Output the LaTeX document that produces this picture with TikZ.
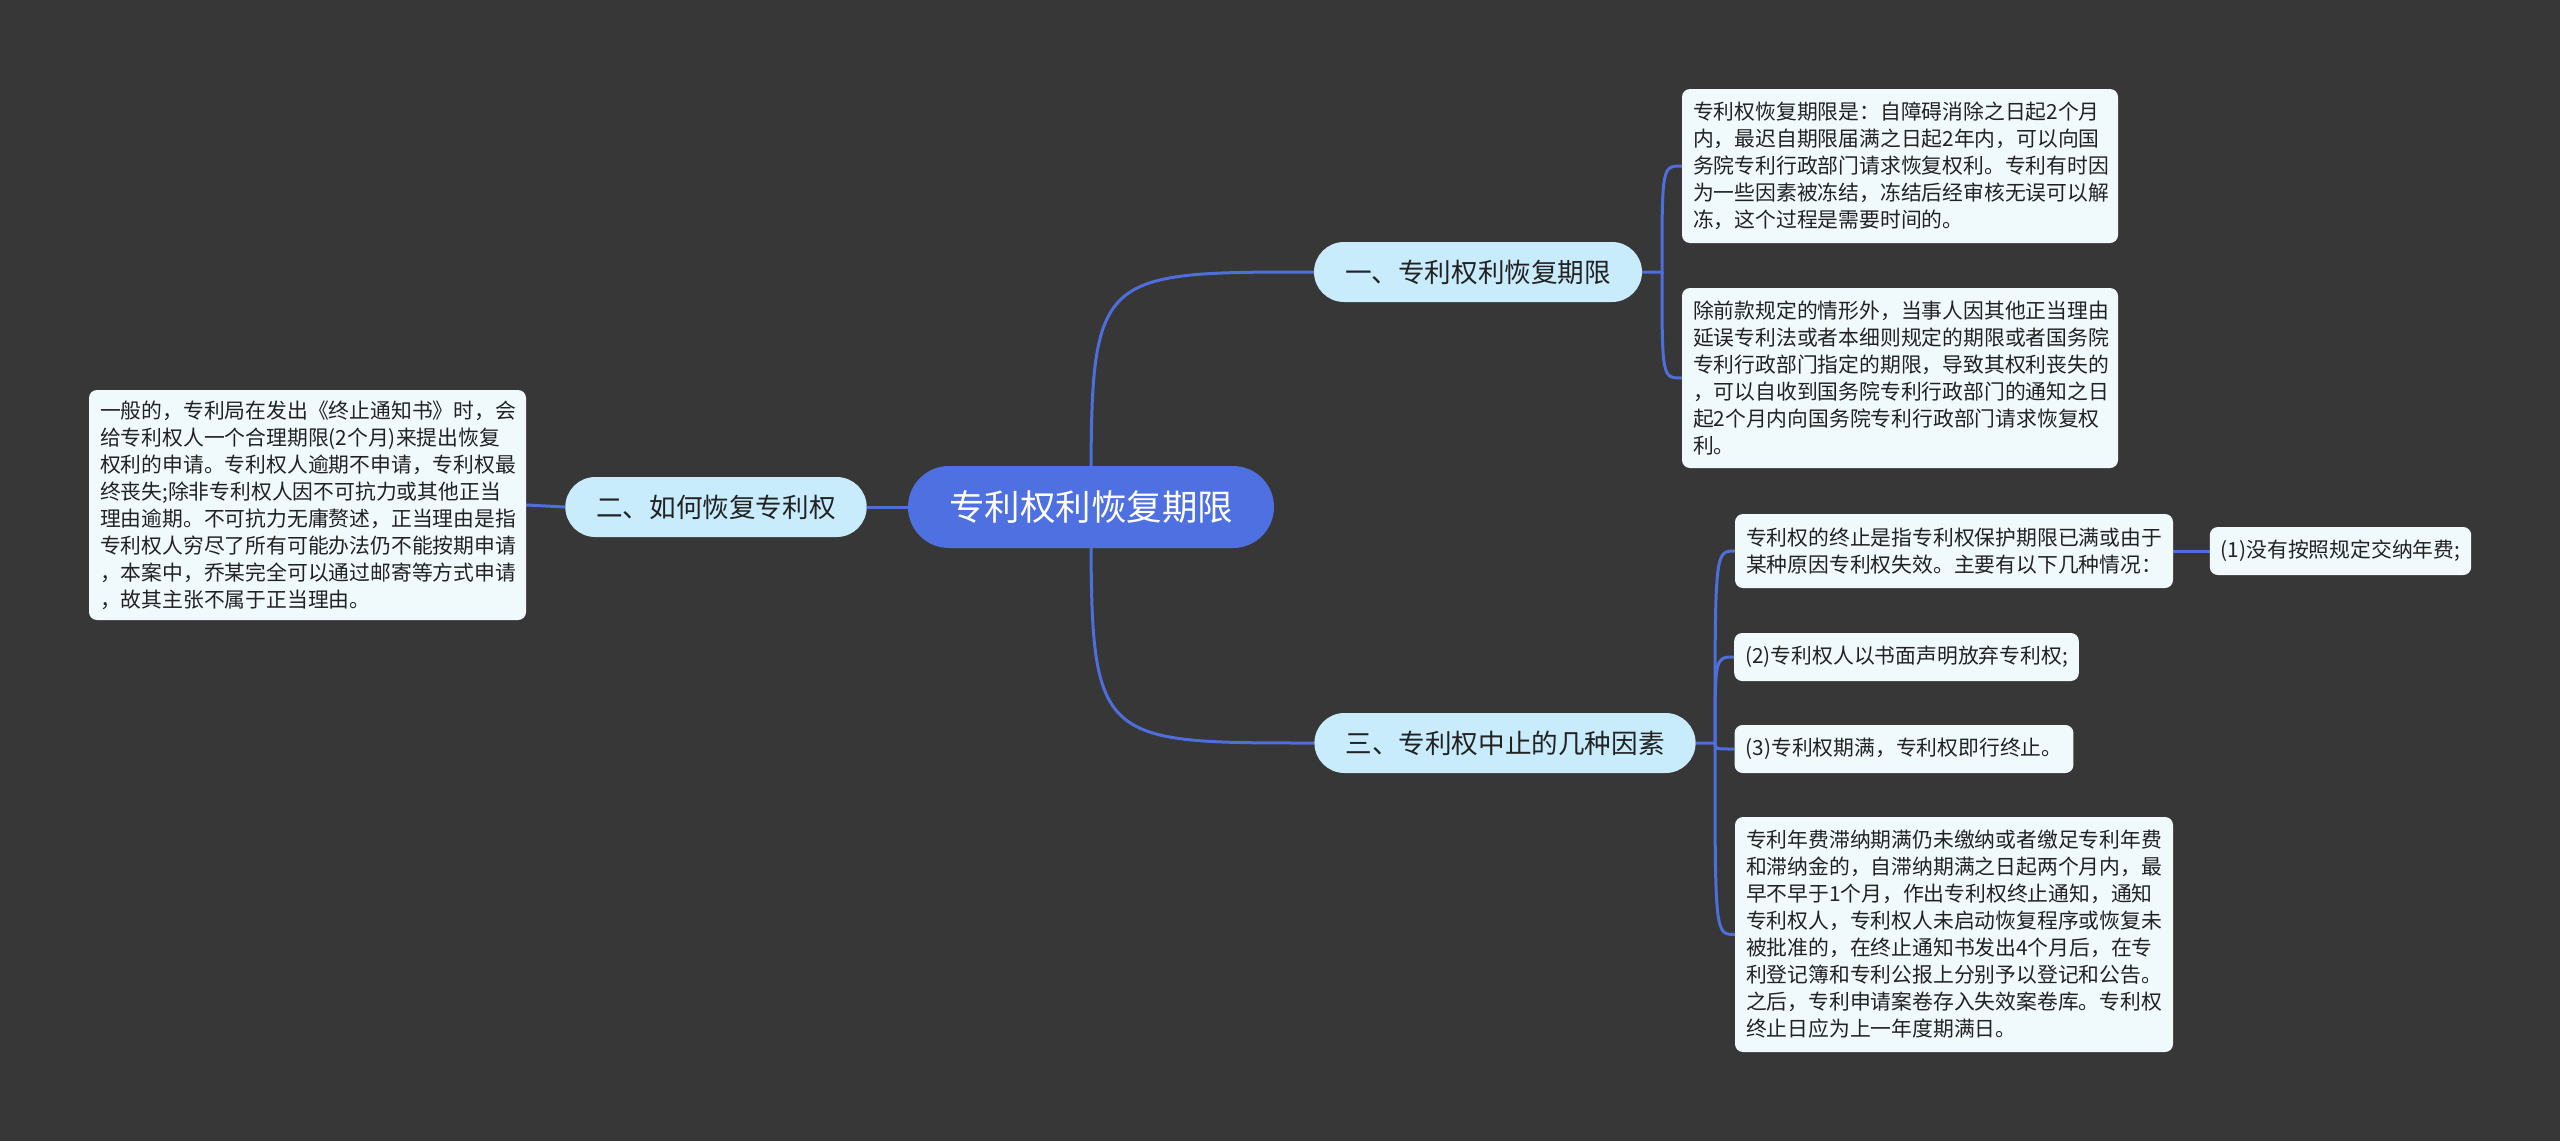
\documentclass[tikz,border=0pt]{standalone}
\usepackage{fontspec}
\newfontfamily\cjk{Noto Sans CJK SC}
\usetikzlibrary{backgrounds}
\definecolor{bgc}{HTML}{383738}
\definecolor{rootc}{HTML}{4F70E0}
\definecolor{linkc}{HTML}{4E6EDC}
\definecolor{lvlc}{HTML}{C8ECFC}
\definecolor{leafc}{HTML}{F0FAFD}
\definecolor{txtc}{HTML}{222222}
\begin{document}
\begin{tikzpicture}[x=1pt,y=-1pt,
  rootbox/.style={shape=rectangle, fill=rootc, rounded corners=41pt, minimum height=82pt, minimum width=366pt, inner sep=0pt, text=white, font=\cjk\fontsize{35.5}{42}\selectfont},
  lvlbox/.style={shape=rectangle, fill=lvlc, rounded corners=30pt, minimum height=60pt, inner xsep=31pt, inner ysep=0pt, text=txtc, font=\cjk\fontsize{26.6}{32}\selectfont},
  leafbox/.style={shape=rectangle, fill=leafc, rounded corners=8pt, inner xsep=11pt, inner ysep=0pt, text=txtc, align=left, font=\cjk\fontsize{20.8}{27}\selectfont},
  link/.style={draw=linkc, line width=3pt}
]
\useasboundingbox (0,0) rectangle (2560,1141);

% root and main branches
\node[rootbox] (c) at (1091,507) {专利权利恢复期限};
\node[lvlbox] (n1) at (1478,272) {一、专利权利恢复期限};
\node[lvlbox] (n2) at (716,507) {二、如何恢复专利权};
\node[lvlbox] (n3) at (1505,743) {三、专利权中止的几种因素};

% leaves of branch one
\node[leafbox, minimum width=436pt, minimum height=154pt, text width=414pt] (a1) at (1900,166) {专利权恢复期限是：自障碍消除之日起2个月\\内，最迟自期限届满之日起2年内，可以向国\\务院专利行政部门请求恢复权利。专利有时因\\为一些因素被冻结，冻结后经审核无误可以解\\冻，这个过程是需要时间的。};
\node[leafbox, minimum width=436pt, minimum height=180pt, text width=414pt] (a2) at (1900,378) {除前款规定的情形外，当事人因其他正当理由\\延误专利法或者本细则规定的期限或者国务院\\专利行政部门指定的期限，导致其权利丧失的\\，可以自收到国务院专利行政部门的通知之日\\起2个月内向国务院专利行政部门请求恢复权\\利。};

% leaf of branch two
\node[leafbox, minimum width=437pt, minimum height=230pt, text width=415pt] (l) at (307.5,505) {一般的，专利局在发出《终止通知书》时，会\\给专利权人一个合理期限(2个月)来提出恢复\\权利的申请。专利权人逾期不申请，专利权最\\终丧失;除非专利权人因不可抗力或其他正当\\理由逾期。不可抗力无庸赘述，正当理由是指\\专利权人穷尽了所有可能办法仍不能按期申请\\，本案中，乔某完全可以通过邮寄等方式申请\\，故其主张不属于正当理由。};

% leaves of branch three
\node[leafbox, minimum width=438pt, minimum height=74pt, text width=416pt] (c1) at (1954,551) {专利权的终止是指专利权保护期限已满或由于\\某种原因专利权失效。主要有以下几种情况：};
\node[leafbox, minimum width=261pt, minimum height=48pt] (p1) at (2340.5,551) {(1)没有按照规定交纳年费;};
\node[leafbox, minimum width=343pt, minimum height=48pt] (c2) at (1906.5,657) {(2)专利权人以书面声明放弃专利权;};
\node[leafbox, minimum width=338pt, minimum height=48pt] (c3) at (1904,749) {(3)专利权期满，专利权即行终止。};
\node[leafbox, minimum width=438pt, minimum height=235pt, text width=416pt] (c4) at (1954,934.5) {专利年费滞纳期满仍未缴纳或者缴足专利年费\\和滞纳金的，自滞纳期满之日起两个月内，最\\早不早于1个月，作出专利权终止通知，通知\\专利权人，专利权人未启动恢复程序或恢复未\\被批准的，在终止通知书发出4个月后，在专\\利登记簿和专利公报上分别予以登记和公告。\\之后，专利申请案卷存入失效案卷库。专利权\\终止日应为上一年度期满日。};

\coordinate (t1) at (1662,272);
\coordinate (t3) at (1715,743);

\begin{scope}[on background layer]
  \fill[bgc] (0,0) rectangle (2560,1141);
  \draw[link] (c.center) .. controls (c.center |- n1.west) .. (n1.west);
  \draw[link] (c.center) .. controls (c.center |- n3.west) .. (n3.west);
  \draw[link] (c.center) -- (n2.east);
  \draw[link] (n2.west) -- (l.east);
  \draw[link] (n1.east) -- (t1) .. controls (t1 |- a1.west) .. (a1.west);
  \draw[link] (t1) .. controls (t1 |- a2.west) .. (a2.west);
  \draw[link] (n3.east) -- (t3) .. controls (t3 |- c1.west) .. (c1.west);
  \draw[link] (t3) .. controls (t3 |- c2.west) .. (c2.west);
  \draw[link] (t3) .. controls (t3 |- c3.west) .. (c3.west);
  \draw[link] (t3) .. controls (t3 |- c4.west) .. (c4.west);
  \draw[link] (c1.east) -- (p1.west);
\end{scope}
\end{tikzpicture}
\end{document}
